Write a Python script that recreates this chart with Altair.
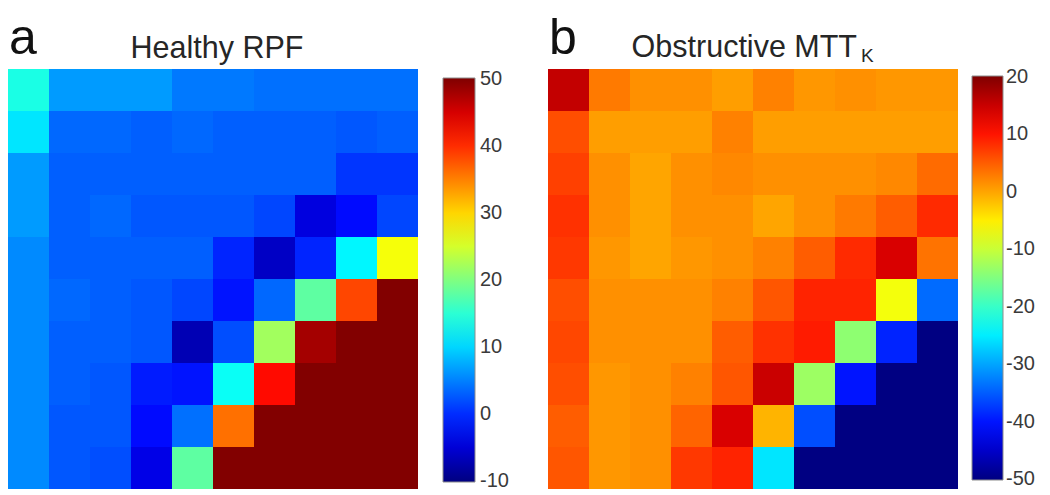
import altair as alt
import pandas as pd

# ---------------- data ----------------
row_ids = list(range(10))
col_ids = list(range(10))

healthy_rpf = [
    [14, 6.5, 6.5, 6.5, 4.5, 4.5, 4, 4, 4, 4],
    [11, 3.5, 3.5, 3, 3.5, 3, 3, 3, 2.5, 3],
    [6.5, 3, 3, 3, 3, 3, 3, 3, 0.5, 0.5],
    [6.5, 3, 3.5, 2.5, 2.5, 2.5, 1.5, -4.5, -2, 1.5],
    [5.5, 3, 3, 3, 3, -0.5, -6, -0.5, 12, 27],
    [5.5, 3.5, 3, 2.5, 1.5, -1.5, 3.5, 18, 38.5, 50],
    [5.5, 3, 3, 2.5, -7, 2, 22, 48, 50, 50],
    [5.5, 3, 2.5, -1, -1.5, 13, 42, 50, 50, 50],
    [5.5, 2.5, 2.5, -2, 4, 36, 50, 50, 50, 50],
    [5.5, 2.5, 2, -4, 18, 50, 50, 50, 50, 50],
]

obstructive_mtt = [
    [15.5, 3, 1.5, 1.5, 0.5, 2.5, 1, 1.5, 1, 1],
    [6, 0.5, 0.5, 0.5, 2.5, 0.5, 0.5, 0.5, 0.5, 0.5],
    [7, 1.5, 0, 1.5, 2, 1.5, 1.5, 1.5, 2, 4],
    [8, 1.5, 0, 1.5, 1.5, 0, 1.5, 3, 5, 8.5],
    [7.5, 1, 0, 1, 1.5, 2.5, 5, 8.5, 14, 3.5],
    [6, 1.5, 1.5, 1.5, 2.5, 5.5, 9, 9, -7, -34],
    [6.5, 1.5, 1.5, 1.5, 5, 8, 9.5, -14, -39, -50],
    [6, 1, 1.5, 2.5, 5.5, 15, -13, -40, -50, -50],
    [5, 1, 1.5, 4.5, 14, -1, -36, -50, -50, -50],
    [5.5, 1, 1.5, 7.5, 9, -25.5, -50, -50, -50, -50],
]

rpf_range = [-10, 50]
mtt_range = [-50, 20]
rpf_ticks = [-10, 0, 10, 20, 30, 40, 50]
mtt_ticks = [-50, -40, -30, -20, -10, 0, 10, 20]

panel_letters = ["a", "b"]
panel_titles = ["Healthy RPF", "Obstructive MTT"]
title_subscript = "K"

# jet colormap, sampled at eighths (jet is piecewise linear on this grid)
jet_colors = ["#00007f", "#0000ff", "#0080ff", "#00ffff", "#80ff80",
              "#ffff00", "#ff8000", "#ff0000", "#7f0000"]

FONT = "Liberation Sans"


def to_long(matrix):
    recs = []
    for r in row_ids:
        for c in col_ids:
            recs.append({"row": r, "col": c, "value": matrix[r][c]})
    return pd.DataFrame(recs)


def panel(matrix, vrange, ticks, lx, ly, lthick, loffset,
          letter, title, title_x, title_y, title_align):
    lo, hi = vrange
    pad = (hi - lo) * 0.0025  # keeps end labels centred on the bar ends
    heat = alt.Chart(to_long(matrix)).mark_rect().encode(
        x=alt.X("col:O", axis=None),
        y=alt.Y("row:O", axis=None),
        color=alt.Color(
            "value:Q",
            scale=alt.Scale(domain=[lo - pad, hi + pad], range=jet_colors,
                            interpolate="rgb", clamp=True),
            legend=alt.Legend(
                orient="none", legendX=lx, legendY=ly, direction="vertical",
                gradientLength=404, gradientThickness=lthick,
                gradientStrokeColor="#8c8c8c", gradientStrokeWidth=1,
                values=ticks, labelFontSize=20, labelColor="#3a3a3a", labelFont=FONT,
                labelOffset=loffset, labelExpr="'' + datum.value",
                labelBaseline="middle", labelOverlap=False, title=None, padding=0,
            ),
        ),
    )
    letter_mark = alt.Chart(pd.DataFrame({"t": [letter]})).mark_text(
        fontSize=50, font=FONT, align="left", baseline="alphabetic", color="#111111"
    ).encode(text="t:N", x=alt.value(1), y=alt.value(-15))
    title_mark = alt.Chart(pd.DataFrame({"t": [title]})).mark_text(
        fontSize=30.5, font=FONT, align=title_align, baseline="alphabetic", color="#262626"
    ).encode(text="t:N", x=alt.value(title_x), y=alt.value(title_y))
    return [heat, letter_mark, title_mark]


left_layers = panel(healthy_rpf, rpf_range, rpf_ticks, 435, 9, 32, 5,
                    panel_letters[0], panel_titles[0], 209, -11, "center")
left = alt.layer(*left_layers).properties(width=410, height=420)

right_layers = panel(obstructive_mtt, mtt_range, mtt_ticks, 424, 7, 31, 3,
                     panel_letters[1], panel_titles[1], 309, -12, "right")
sub_mark = alt.Chart(pd.DataFrame({"t": [title_subscript]})).mark_text(
    fontSize=19, font=FONT, align="left", baseline="alphabetic", color="#262626"
).encode(text="t:N", x=alt.value(313), y=alt.value(-7))
right = alt.layer(*right_layers, sub_mark).properties(width=410, height=420)

chart = (
    alt.hconcat(left, right, spacing=130, bounds="flush")
    .resolve_scale(color="independent")
    .resolve_legend(color="independent")
    .properties(padding={"top": 6, "left": 0, "right": 0, "bottom": 0})
    .configure_view(strokeWidth=0)
)

chart.save("out.html", embed_options={"renderer": "svg", "actions": False})
